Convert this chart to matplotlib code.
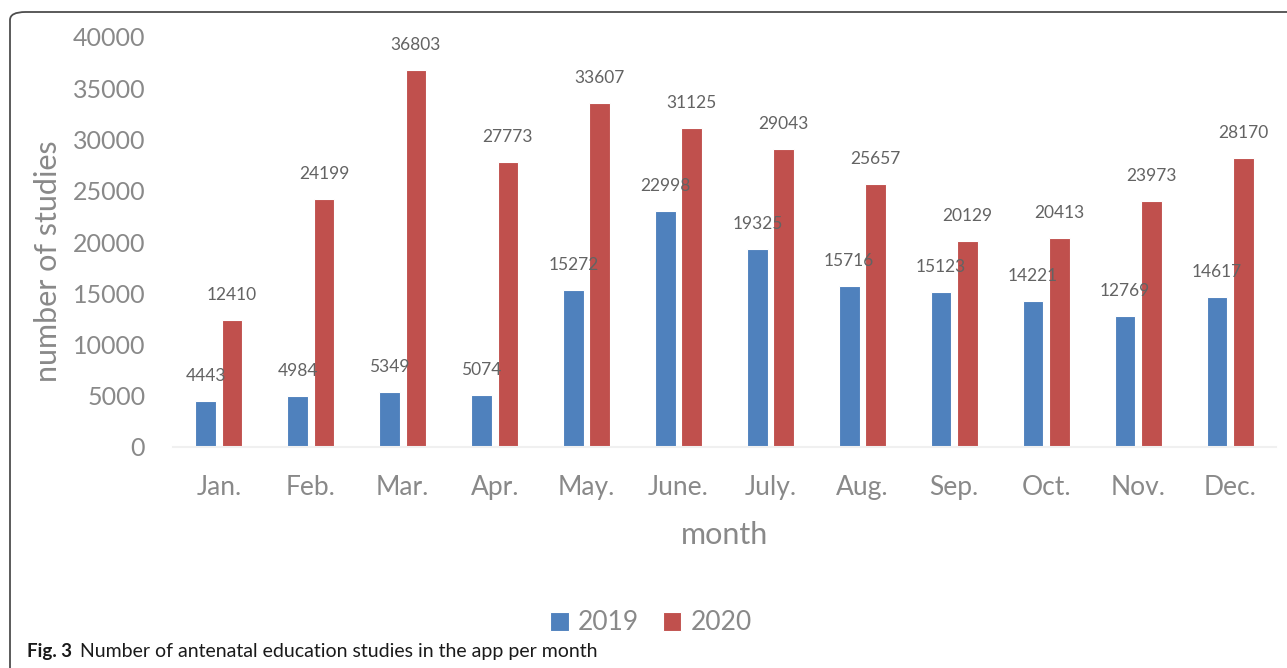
import matplotlib
matplotlib.use("Agg")
import matplotlib.pyplot as plt
from matplotlib.patches import FancyBboxPatch
import numpy as np

months = ["Jan.", "Feb.", "Mar.", "Apr.", "May.", "June.", "July.", "Aug.", "Sep.", "Oct.", "Nov.", "Dec."]
values_2019 = [4443, 4984, 5349, 5074, 15272, 22998, 19325, 15716, 15123, 14221, 12769, 14617]
values_2020 = [12410, 24199, 36803, 27773, 33607, 31125, 29043, 25657, 20129, 20413, 23973, 28170]
series_names = ["2019", "2020"]
yticks = [0, 5000, 10000, 15000, 20000, 25000, 30000, 35000, 40000]

plt.rcParams['font.family'] = ['Lato', 'DejaVu Sans']
grey = "#898989"
blue = "#4f81bd"
red = "#c0504d"

W, H = 1287, 668
fig = plt.figure(figsize=(W / 100, H / 100), dpi=100)
ax = fig.add_axes([173 / W, 1 - 447 / H, 1103 / W, 410 / H])

x = np.arange(len(months))
bw = 0.225
off = 0.143
b1 = ax.bar(x - off, values_2019, bw, color=blue, edgecolor="white", linewidth=0.8, label=series_names[0])
b2 = ax.bar(x + off, values_2020, bw, color=red, edgecolor="white", linewidth=0.8, label=series_names[1])

for bars, vals in ((b1, values_2019), (b2, values_2020)):
    for rect, v in zip(bars, vals):
        ax.annotate(str(v), (rect.get_x() + rect.get_width() / 2, v),
                    xytext=(0, 25), textcoords="offset pixels",
                    ha="center", va="center", fontsize=12.5, color="#636363")

ax.set_xlim(-0.5, len(months) - 0.5)
ax.set_ylim(0, 40000)
ax.set_yticks(yticks)
ax.set_yticklabels([str(t) for t in yticks])
ax.set_xticks(x)
ax.set_xticklabels(months)
ax.tick_params(axis="y", length=0, pad=20, labelsize=18, labelcolor=grey)
ax.tick_params(axis="x", length=0, pad=20, labelsize=19, labelcolor=grey)
for s in ("top", "right", "left"):
    ax.spines[s].set_visible(False)
ax.spines["bottom"].set_color("#f0f0f0")
ax.spines["bottom"].set_linewidth(1.5)

ax.set_xlabel("month", fontsize=22, color=grey)
ax.xaxis.set_label_coords(0.5, -74 / 410)
ax.set_ylabel("number of studies", fontsize=22, color=grey)
ax.yaxis.set_label_coords(-111 / 1103, (447 - 261) / 410)

fig.legend(handles=[b1, b2], labels=series_names, loc="center", bbox_to_anchor=(651 / W, 1 - 623 / H),
           ncol=2, frameon=False, fontsize=19, labelcolor=grey, handlelength=0.7, handleheight=0.7,
           handletextpad=0.35, columnspacing=0.9)

# border
border = FancyBboxPatch((10 / W, -0.2), 1.5, 1 - 12 / H + 0.2, boxstyle="round,pad=0,rounding_size=0.012",
                        transform=fig.transFigure, fill=False, edgecolor="#4d4d4d", linewidth=1.3, clip_on=False)
fig.add_artist(border)

fig.text(27 / W, 1 - 652 / H, "Fig. 3", fontsize=13.5, fontweight="bold", ha="left", va="center", color="#1a1a1a")
fig.text(80 / W, 1 - 652 / H, "Number of antenatal education studies in the app per month", fontsize=14,
         ha="left", va="center", color="#1a1a1a")

fig.savefig("out.png", dpi=100)
